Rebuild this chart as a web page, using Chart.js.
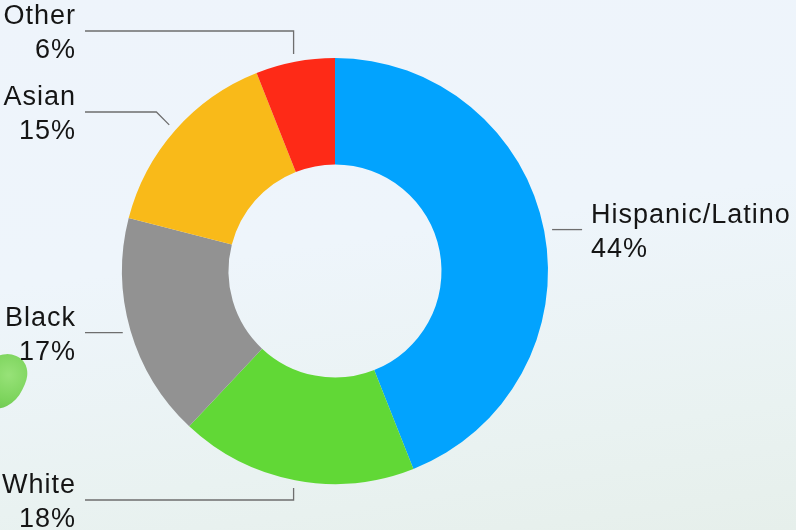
<!DOCTYPE html>
<html>
<head>
<meta charset="utf-8">
<script src="https://cdn.jsdelivr.net/npm/chart.js@4"></script>
<style>
html, body { margin: 0; padding: 0; }
body {
	width: 796px; height: 530px; overflow: hidden; position: relative;
	background: linear-gradient(172deg, #eef4fb 0%, #eef5fb 45%, #e9f2f1 80%, #e6efeb 100%);
}
#leaf {
	position: absolute; left: -22px; top: 352px; width: 46px; height: 58px;
	border-radius: 60% 40% 55% 45%;
	background: radial-gradient(circle at 60% 35%, #8ee06a 0%, #6fd04a 55%, #56b83a 100%);
	transform: rotate(25deg); opacity: 0.9;
}
#wrap { position: absolute; left: 0; top: 0; width: 796px; height: 530px; }
</style>
</head>
<body>
<div id="leaf"></div>
<div id="wrap"><canvas id="donutChart"></canvas></div>
<script>
// slice data, clockwise from 12 o'clock
const groups = ["Hispanic/Latino", "White", "Black", "Asian", "Other"];
const shares = [44, 18, 17, 15, 6];
const sliceColors = ["#02a3fe", "#61d836", "#929292", "#f9ba19", "#fe2a17"];

// callout layout: which side the label sits on, y of the horizontal leader, elbow style
const labelSide = ["right", "left", "left", "left", "left"];
const labelLineY = [null, 500, null, 112, 31];
const labelElbow = ["none", "vertical", "none", "diagonal", "vertical"];

const calloutPlugin = {
	id: 'callouts',
	afterDraw(chart){
		let ctx = chart.ctx;
		let arcs = chart.getDatasetMeta(0).data;
		ctx.save();
		ctx.font = '27px "Liberation Sans", Arial, sans-serif';
		if('letterSpacing' in ctx) ctx.letterSpacing = '1px';
		for(let i=0;i<arcs.length;i++){
			let p = arcs[i].getProps(['x','y','startAngle','endAngle','outerRadius'], true);
			let mid = (p.startAngle + p.endAngle)/2;
			let ax = p.x + Math.cos(mid)*(p.outerRadius+8);
			let ay = p.y + Math.sin(mid)*(p.outerRadius+8);
			let ly = labelLineY[i] === null ? ay : labelLineY[i];

			let pts = [[ax, ay]];
			if(labelElbow[i] == "vertical") pts.push([ax, ly]);
			else if(labelElbow[i] == "diagonal") pts.push([ax - Math.abs(ay-ly), ly]);
			let endX = labelSide[i] == "left" ? 85 : ax + 30;
			pts.push([endX, ly]);

			ctx.beginPath();
			ctx.strokeStyle = '#6e6e6e';
			ctx.lineWidth = 1.3;
			ctx.moveTo(pts[0][0], pts[0][1]);
			for(let k=1;k<pts.length;k++) ctx.lineTo(pts[k][0], pts[k][1]);
			ctx.stroke();

			ctx.fillStyle = '#151515';
			ctx.textBaseline = 'alphabetic';
			let tx;
			if(labelSide[i] == "left"){ ctx.textAlign = 'right'; tx = 76; }
			else { ctx.textAlign = 'left'; tx = endX + 9; }
			ctx.fillText(groups[i], tx, ly - 7);
			ctx.fillText(shares[i] + '%', tx, ly + 27);
		}
		ctx.restore();
	}
};

let ctx = document.getElementById('donutChart').getContext('2d');
let donutGraph = new Chart(ctx, {
	type: 'doughnut',
	data: {
		labels: groups,
		datasets: [{
			data: shares,
			backgroundColor: sliceColors,
			borderWidth: 0
		}]
	},
	options: {
		responsive: true,
		maintainAspectRatio: false,
		animation: false,
		cutout: '50%',
		layout: { padding: { left: 122, right: 248, top: 58, bottom: 46 } },
		plugins: {
			legend: { display: false },
			tooltip: { enabled: false }
		}
	},
	plugins: [calloutPlugin]
});
</script>
</body>
</html>
